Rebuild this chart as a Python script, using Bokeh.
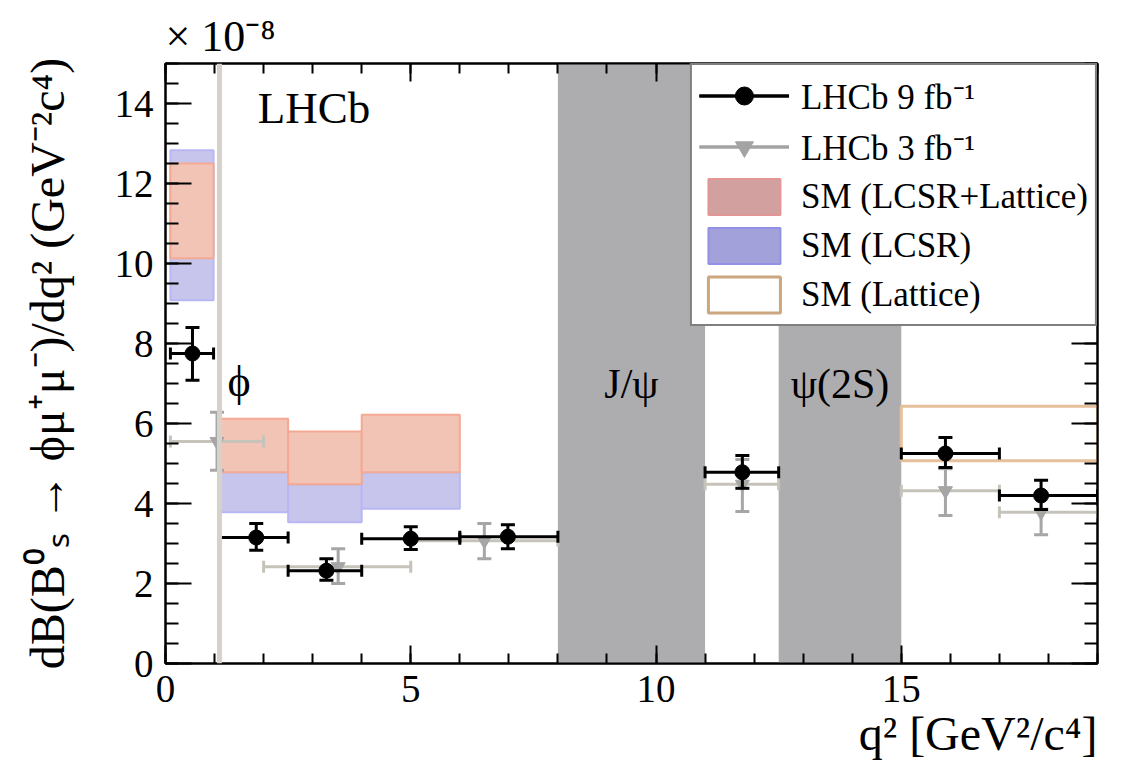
import numpy as np
from bokeh.plotting import figure
from bokeh.models import (Range1d, LinearAxis, SingleIntervalTicker, Legend, LegendItem,
                          Label, Span, BoxAnnotation, CustomJSTickFormatter, Title)
from bokeh.embed import file_html
from bokeh.resources import INLINE

FONT = "Liberation Serif"

# ---------------- data (branching fraction in units of 1e-8 per GeV^2/c^4) ----------------
q2_min, q2_max = 0.0, 19.0
y_min, y_max = 0.0, 15.0

resonance_lo = [8.0, 12.5]
resonance_hi = [11.0, 15.0]
resonance_names = ["J/ψ", "ψ(2S)"]
phi_veto_q2 = 1.1

# LHCb 9 fb^-1
run9_q2_lo = [0.1, 1.1, 2.5, 4.0, 6.0, 11.0, 15.0, 17.0]
run9_q2_hi = [0.98, 2.5, 4.0, 6.0, 8.0, 12.5, 17.0, 19.0]
run9_q2_c = [0.55, 1.85, 3.28, 5.0, 6.98, 11.76, 15.9, 17.85]
run9_val = [7.75, 3.15, 2.32, 3.12, 3.17, 4.78, 5.25, 4.20]
run9_up = [8.40, 3.50, 2.62, 3.42, 3.47, 5.20, 5.65, 4.58]
run9_dn = [7.08, 2.83, 2.08, 2.85, 2.87, 4.38, 4.90, 3.85]

# LHCb 3 fb^-1
run3_q2_lo = [0.1, 2.0, 5.0, 11.0, 15.0, 17.0]
run3_q2_hi = [2.0, 5.0, 8.0, 12.5, 17.0, 19.0]
run3_q2_c = [1.05, 3.52, 6.5, 11.76, 15.9, 17.85]
run3_val = [5.55, 2.42, 3.07, 4.48, 4.32, 3.78]
run3_up = [6.28, 2.87, 3.50, 5.10, 4.87, 4.25]
run3_dn = [4.83, 2.00, 2.62, 3.80, 3.70, 3.22]

# SM predictions
sm_q2_lo = [0.1, 1.1, 2.5, 4.0]
sm_q2_hi = [0.98, 2.5, 4.0, 6.0]
lcsr_lo = [9.08, 3.78, 3.53, 3.87]
lcsr_hi = [12.83, 4.78, 4.48, 4.78]
comb_lo = [10.13, 4.78, 4.48, 4.78]
comb_hi = [12.50, 6.12, 5.80, 6.22]
latt_q2_lo = [15.0]
latt_q2_hi = [19.0]
latt_lo = [5.07]
latt_hi = [6.43]

# ---------------- figure ----------------
p = figure(width=1143, height=777, output_backend="svg", toolbar_location=None,
           x_range=Range1d(q2_min, q2_max), y_range=Range1d(y_min, y_max),
           x_axis_location=None, y_axis_location=None,
           min_border_left=165, min_border_right=46, min_border_top=63, min_border_bottom=114,
           background_fill_color="white", border_fill_color="white")
p.grid.visible = False
p.outline_line_color = "black"
p.outline_line_width = 2

p.title.text = "× 10⁻⁸"
p.title.text_font = FONT
p.title.text_font_size = "44px"
p.title.text_font_style = "normal"
p.title.text_color = "black"
p.title.align = "left"
p.title.standoff = 6


def make_axis(interval, n_minor, major_len, minor_len, show_labels):
    ax = LinearAxis(ticker=SingleIntervalTicker(interval=interval, num_minor_ticks=n_minor))
    ax.major_tick_in = major_len
    ax.major_tick_out = 0
    ax.minor_tick_in = minor_len
    ax.minor_tick_out = 0
    ax.axis_line_color = "black"
    ax.axis_line_width = 2
    ax.major_tick_line_color = "black"
    ax.major_tick_line_width = 2
    ax.minor_tick_line_color = "black"
    ax.minor_tick_line_width = 2
    ax.major_label_text_font = FONT
    ax.major_label_text_color = "black"
    ax.major_label_text_font_size = "39px"
    if show_labels:
        ax.major_label_standoff = 12
    else:
        ax.formatter = CustomJSTickFormatter(code="return ''")
        ax.major_label_standoff = 0
        ax.major_label_text_font_size = "1px"
    return ax


xb = make_axis(5, 5, 18, 10, True)
p.add_layout(xb, "below")

yl = make_axis(2, 4, 26, 13, True)
yl.axis_label = "dB(B⁰ₛ → ϕμ⁺μ⁻)/dq² (GeV⁻²c⁴)"
yl.axis_label_text_font = FONT
yl.axis_label_text_font_size = "48px"
yl.axis_label_text_font_style = "normal"
yl.axis_label_text_color = "black"
yl.axis_label_standoff = 38
p.add_layout(yl, "left")

p.add_layout(make_axis(5, 5, 18, 10, False), "above")
p.add_layout(make_axis(2, 4, 26, 13, False), "right")

# x-axis title, right-aligned at the end of the axis, below the tick labels
xtitle = Title(text="q² [GeV²/c⁴]", align="right", text_font=FONT, text_font_size="48px",
               text_font_style="normal", text_color="black", standoff=0)
p.add_layout(xtitle, "below")

# ---------------- resonance vetoes ----------------
for lo, hi, name in zip(resonance_lo, resonance_hi, resonance_names):
    p.add_layout(BoxAnnotation(left=lo, right=hi, fill_color="#adadb0", fill_alpha=1.0,
                               line_color=None, level="underlay"))
    p.add_layout(Label(x=(lo + hi) / 2, y=7.0, text=name, text_align="center",
                       text_baseline="middle", text_font=FONT, text_font_size="42px",
                       text_color="black"))

# ---------------- SM predictions ----------------
p.quad(left=sm_q2_lo, right=sm_q2_hi, bottom=lcsr_lo, top=lcsr_hi,
       fill_color="#c7c5eb", line_color="#b9b7f3", line_width=2)
p.quad(left=sm_q2_lo, right=sm_q2_hi, bottom=comb_lo, top=comb_hi,
       fill_color="#f1c4b6", line_color="#f3a994", line_width=2)
p.quad(left=latt_q2_lo, right=latt_q2_hi, bottom=latt_lo, top=latt_hi,
       fill_color=None, line_color="#e6c09a", line_width=3)

# phi veto line
p.add_layout(Span(location=phi_veto_q2, dimension="height", line_color="#d6d2ca", line_width=5))
p.add_layout(Label(x=1.5, y=7.05, text="ϕ", text_align="center", text_baseline="middle",
                   text_font=FONT, text_font_size="44px", text_color="black"))

# ---------------- data points ----------------
def draw_points(lo, hi, xc, val, up, dn, hcol, vcol, marker, msize):
    p.segment(x0=lo, y0=val, x1=hi, y1=val, line_color=hcol, line_width=3)
    p.segment(x0=xc, y0=dn, x1=xc, y1=up, line_color=vcol, line_width=3)
    p.scatter(x=lo, y=val, marker="dash", angle=np.pi / 2, size=12, line_color=hcol, line_width=3)
    p.scatter(x=hi, y=val, marker="dash", angle=np.pi / 2, size=12, line_color=hcol, line_width=3)
    p.scatter(x=xc, y=up, marker="dash", size=14, line_color=vcol, line_width=3)
    p.scatter(x=xc, y=dn, marker="dash", size=14, line_color=vcol, line_width=3)
    p.scatter(x=xc, y=val, marker=marker, size=msize, fill_color=vcol, line_color=vcol)


draw_points(run3_q2_lo, run3_q2_hi, run3_q2_c, run3_val, run3_up, run3_dn,
            "#c6c3ba", "#a6a6a6", "inverted_triangle", 14)
draw_points(run9_q2_lo, run9_q2_hi, run9_q2_c, run9_val, run9_up, run9_dn,
            "black", "black", "circle", 15)

p.add_layout(Label(x=1.88, y=13.9, text="LHCb", text_align="left", text_baseline="middle",
                   text_font=FONT, text_font_size="45px", text_color="black"))

# ---------------- legend (legend-only renderers: a single NaN entry draws nothing) ----------------
nan1 = [np.nan]
l9_h = p.line(x=nan1, y=nan1, line_color="black", line_width=3)
l9_v = p.vspan(x=nan1, line_color="black", line_width=3)
l9_m = p.scatter(x=nan1, y=nan1, marker="circle", size=14, fill_color="black", line_color="black")
l3_h = p.line(x=nan1, y=nan1, line_color="#a3a3a3", line_width=3)
l3_v = p.vspan(x=nan1, line_color="#a3a3a3", line_width=3)
l3_m = p.scatter(x=nan1, y=nan1, marker="inverted_triangle", size=14, fill_color="#a3a3a3", line_color="#a3a3a3")
lc = p.quad(left=nan1, right=nan1, bottom=nan1, top=nan1, fill_color="#d1a09f", line_color="#e39696", line_width=2)
ll = p.quad(left=nan1, right=nan1, bottom=nan1, top=nan1, fill_color="#a2a1d9", line_color="#9391e6", line_width=2)
lt = p.quad(left=nan1, right=nan1, bottom=nan1, top=nan1, fill_color=None, line_color="#cba67f", line_width=3)

legend = Legend(items=[
    LegendItem(label="LHCb 9 fb⁻¹", renderers=[l9_h, l9_v, l9_m]),
    LegendItem(label="LHCb 3 fb⁻¹", renderers=[l3_h, l3_v, l3_m]),
    LegendItem(label="SM (LCSR+Lattice)", renderers=[lc]),
    LegendItem(label="SM (LCSR)", renderers=[ll]),
    LegendItem(label="SM (Lattice)", renderers=[lt]),
])
legend.location = "top_right"
legend.margin = 0
legend.padding = 7
legend.spacing = 4
legend.glyph_width = 90
legend.glyph_height = 45
legend.label_standoff = 12
legend.label_text_font = FONT
legend.label_text_font_size = "35px"
legend.label_text_color = "black"
legend.border_line_color = "black"
legend.border_line_width = 2
legend.background_fill_color = "white"
legend.background_fill_alpha = 1.0
p.add_layout(legend)

open("out.html", "w").write(file_html(p, INLINE))
